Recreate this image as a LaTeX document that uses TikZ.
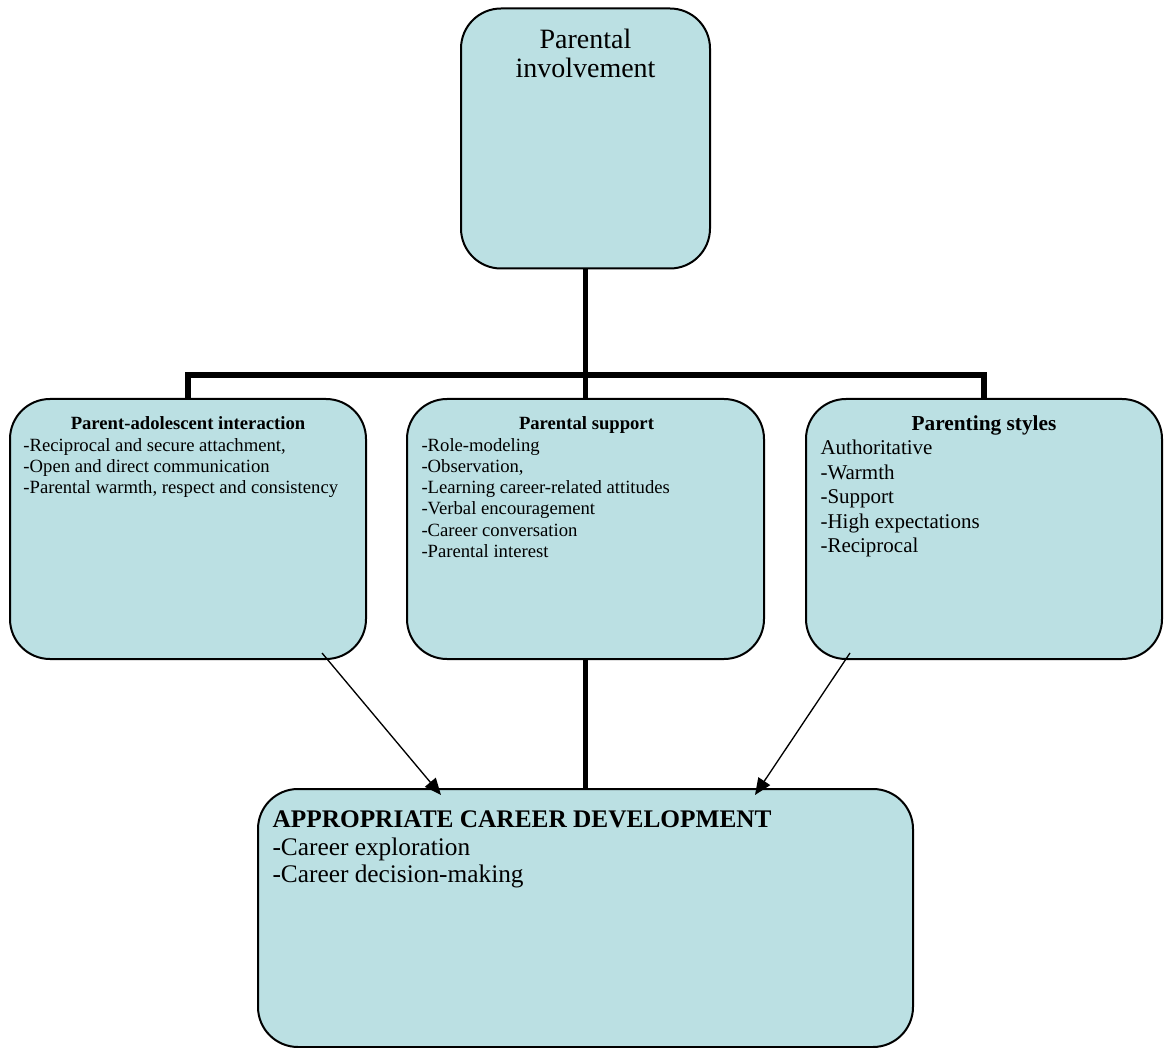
\documentclass[tikz,border=0pt]{standalone}
\usepackage{fontspec}
\setmainfont{Liberation Serif}
\usetikzlibrary{arrows.meta}

\definecolor{boxfill}{RGB}{187,224,227}
\tikzset{every picture/.style={line width=0.75pt}}
\tikzset{
  rbox/.style={draw,fill=boxfill,line width=1.5pt,rounded corners=30pt,inner sep=0pt,outer sep=0pt},
  trunk/.style={line width=4.1pt},
  link/.style={line width=1pt,-{Triangle[length=12.5pt,width=10.5pt]}},
  headtxt/.style={anchor=base,inner sep=0pt,font=\bfseries},
  itemtxt/.style={anchor=base west,inner sep=0pt}
}

\begin{document}
\begin{tikzpicture}[x=0.75pt,y=0.75pt,yscale=-1,xscale=1]
\useasboundingbox (0,0) rectangle (1164,1048);

%Shape: Rounded Rect
\node[rbox,minimum width=186.75pt,minimum height=195pt] (inv) at (585.5,138.5) {};
%Shape: Rounded Rect
\node[rbox,minimum width=267pt,minimum height=195pt] (inter) at (188,529) {};
%Shape: Rounded Rect
\node[rbox,minimum width=267.75pt,minimum height=195pt] (supp) at (585.5,529) {};
%Shape: Rounded Rect
\node[rbox,minimum width=267pt,minimum height=195pt] (styles) at (984,529) {};
%Shape: Rounded Rect
\node[rbox,minimum width=491.25pt,minimum height=193.5pt] (career) at (585.5,918) {};

%Straight Lines
\coordinate (bus) at (585.5,375);
\draw[trunk] (inv.south) -- (supp.north);
\draw[trunk] (inter.north) |- (bus) -| (styles.north);
\draw[trunk] (supp.south) -- (career.north);

%Straight Lines
\coordinate (interFoot) at (322,653);
\coordinate (stylesFoot) at (850,653);
\coordinate (careerLeft) at (441,795);
\coordinate (careerRight) at (755,795);
\draw[link] (interFoot) -- (careerLeft);
\draw[link] (stylesFoot) -- (careerRight);

% Text Node
\node[anchor=base,inner sep=0pt,font=\fontsize{21}{24}\selectfont] (invHead) at (585.5,49) {Parental};
\node[anchor=base,inner sep=0pt,font=\fontsize{21}{24}\selectfont] (invHeadB) at (585.5,78) {involvement};

% Text Node
\node[headtxt,font=\fontsize{14}{16}\selectfont\bfseries] (interHead) at (188,430) {Parent-adolescent interaction};
\foreach \t [count=\i] in {{-Reciprocal and secure attachment,},{-Open and direct communication},{-Parental warmth, respect and consistency}}
  \node[itemtxt,font=\fontsize{14}{16}\selectfont] (interItem\i) at (23,{451+21.25*(\i-1)}) {\t};

% Text Node
\node[headtxt,font=\fontsize{14}{16}\selectfont\bfseries] (suppHead) at (586.5,430) {Parental support};
\foreach \t [count=\i] in {-Role-modeling,{-Observation,},-Learning career-related attitudes,-Verbal encouragement,-Career conversation,-Parental interest}
  \node[itemtxt,font=\fontsize{14}{16}\selectfont] (suppItem\i) at (421,{451+21.25*(\i-1)}) {\t};

% Text Node
\node[headtxt,font=\fontsize{16}{18}\selectfont\bfseries] (stylesHead) at (984,431) {Parenting styles};
\foreach \t [count=\i] in {Authoritative,-Warmth,-Support,-High expectations,-Reciprocal}
  \node[itemtxt,font=\fontsize{15.75}{18}\selectfont] (stylesItem\i) at (820,{455+24.4*(\i-1)}) {\t};

% Text Node
\node[itemtxt,font=\fontsize{19}{21}\selectfont\bfseries] (careerHead) at (272,827) {APPROPRIATE CAREER DEVELOPMENT};
\node[itemtxt,font=\fontsize{19}{21}\selectfont] (careerItem1) at (272,855) {-Career exploration};
\node[itemtxt,font=\fontsize{19}{21}\selectfont] (careerItem2) at (272,882) {-Career decision-making};

\end{tikzpicture}
\end{document}
